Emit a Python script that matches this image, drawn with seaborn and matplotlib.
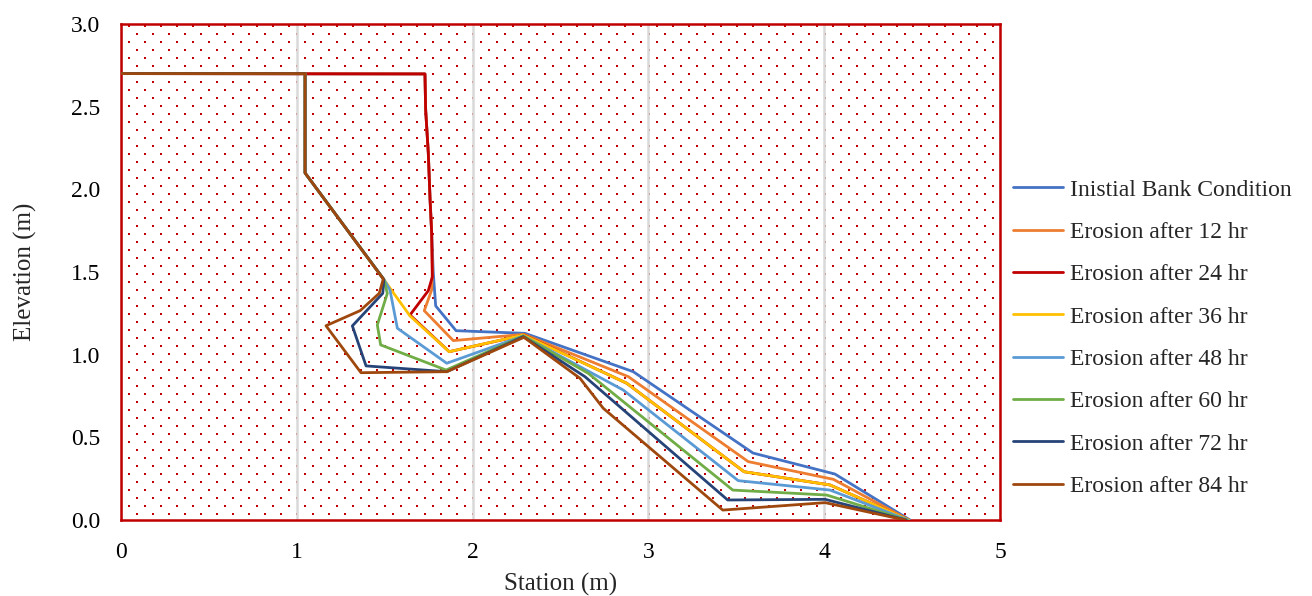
import numpy as np
import pandas as pd
import seaborn as sns
import matplotlib.pyplot as plt

# nomes das series
series = ["Inistial Bank Condition", "Erosion after 12 hr", "Erosion after 24 hr",
          "Erosion after 36 hr", "Erosion after 48 hr", "Erosion after 60 hr",
          "Erosion after 72 hr", "Erosion after 84 hr"]
cores = ["#4472C4", "#ED7D31", "#C00000", "#FFC000",
         "#5B9BD5", "#70AD47", "#264478", "#9E480E"]

# perfis (station, elevation)
x_ini = [0, 1.729, 1.733, 1.748, 1.758, 1.767, 1.776, 1.782, 1.790, 1.906, 2.298, 2.914, 3.595, 4.061, 4.488]
y_ini = [2.7, 2.698, 2.48, 2.22, 1.94, 1.74, 1.50, 1.411, 1.295, 1.145, 1.129, 0.897, 0.405, 0.278, 0.0]

x_12 = [0, 1.729, 1.733, 1.748, 1.758, 1.767, 1.771, 1.767, 1.725, 1.890, 2.292, 2.886, 3.568, 4.052, 4.482]
y_12 = [2.7, 2.698, 2.48, 2.22, 1.94, 1.74, 1.50, 1.391, 1.266, 1.085, 1.123, 0.867, 0.353, 0.246, 0.0]

x_24 = [0, 1.729, 1.733, 1.748, 1.758, 1.767, 1.771, 1.748, 1.644, 1.867, 2.292, 2.877, 3.544, 4.033, 4.482]
y_24 = [2.7, 2.698, 2.48, 2.22, 1.94, 1.74, 1.47, 1.387, 1.240, 1.018, 1.119, 0.827, 0.292, 0.212, 0.0]

x_36 = [0, 1.047, 1.047, 1.495, 1.644, 1.867, 2.288, 2.877, 3.544, 4.033, 4.482]
y_36 = [2.7, 2.7, 2.099, 1.455, 1.234, 1.018, 1.119, 0.827, 0.292, 0.212, 0.0]

x_48 = [0, 1.047, 1.047, 1.495, 1.530, 1.572, 1.853, 2.288, 2.857, 3.511, 4.033, 4.477]
y_48 = [2.7, 2.7, 2.099, 1.455, 1.391, 1.160, 0.948, 1.113, 0.786, 0.238, 0.181, 0.0]

x_60 = [0, 1.047, 1.047, 1.495, 1.515, 1.458, 1.477, 1.849, 2.288, 2.658, 3.480, 4.014, 4.471]
y_60 = [2.7, 2.7, 2.099, 1.455, 1.371, 1.180, 1.059, 0.907, 1.113, 0.887, 0.181, 0.151, 0.0]

x_72 = [0, 1.047, 1.047, 1.495, 1.489, 1.316, 1.394, 1.853, 2.288, 2.639, 3.451, 4.005, 4.465]
y_72 = [2.7, 2.7, 2.099, 1.455, 1.371, 1.174, 0.932, 0.897, 1.109, 0.867, 0.121, 0.125, 0.0]

x_84 = [0, 1.047, 1.047, 1.492, 1.469, 1.360, 1.166, 1.365, 1.853, 2.292, 2.611, 2.743, 3.423, 4.005, 4.460]
y_84 = [2.7, 2.7, 2.099, 1.458, 1.371, 1.266, 1.175, 0.891, 0.897, 1.105, 0.857, 0.676, 0.060, 0.105, 0.0]

xs = [x_ini, x_12, x_24, x_36, x_48, x_60, x_72, x_84]
ys = [y_ini, y_12, y_24, y_36, y_48, y_60, y_72, y_84]

sns.set_style("white")
plt.rcParams['font.family'] = ['Liberation Serif', 'DejaVu Serif']

W, H = 1312, 596
fig = plt.figure(figsize=(W / 100, H / 100), dpi=100)
# posicao do eixo em pixels
esq, dir_, topo, base = 121, 1000, 24, 520
ax = fig.add_axes([esq / W, 1 - base / H, (dir_ - esq) / W, (base - topo) / H])

# fundo pontilhado (padrao do excel)
px = []
py = []
linha = 0
for yy in np.arange(25.7, base, 8):
    x0 = 128.7 if linha % 2 == 0 else 136.7
    for xx in np.arange(x0, dir_, 16):
        px.append((xx - esq) / (dir_ - esq))
        py.append((base - yy) / (base - topo))
    linha += 1
ax.scatter(px, py, s=4.2, marker='s', color="#C00000", linewidths=0,
           transform=ax.transAxes, zorder=0)

for k in range(len(series)):
    df = pd.DataFrame({"station": xs[k], "elevation": ys[k]})
    sns.lineplot(data=df, x="station", y="elevation", sort=False, estimator=None,
                 color=cores[k], linewidth=2.0, label=series[k], ax=ax, zorder=3)

ax.set_xlim(0, 5)
ax.set_ylim(0, 3)
ax.set_xticks(np.arange(0, 6, 1))
ax.set_yticks(np.arange(0, 3.01, 0.5))
ax.set_yticklabels(["%.1f" % v for v in np.arange(0, 3.01, 0.5)])
ax.xaxis.grid(True, color="#D9D9D9", linewidth=1.8, zorder=1)
ax.yaxis.grid(False)
ax.set_axisbelow(True)

for s in ax.spines.values():
    s.set_color("#C00000")
    s.set_linewidth(1.8)
ax.tick_params(axis='both', direction='in', color="#C00000", length=4.5, width=1.5,
               labelsize=17, labelcolor="black")
ax.tick_params(axis='x', pad=16)
ax.tick_params(axis='y', pad=15)

ax.set_xlabel("Station (m)", fontsize=18, labelpad=7)
ax.set_ylabel("Elevation (m)", fontsize=18, labelpad=24)

ax.legend(loc='center left', bbox_to_anchor=(1013 / W, 1 - 338 / H),
          bbox_transform=fig.transFigure, frameon=False, fontsize=17,
          handlelength=2.1, handletextpad=0.3, labelspacing=0.88,
          borderpad=0, borderaxespad=0)

fig.savefig("out.png", dpi=100)
plt.close()
